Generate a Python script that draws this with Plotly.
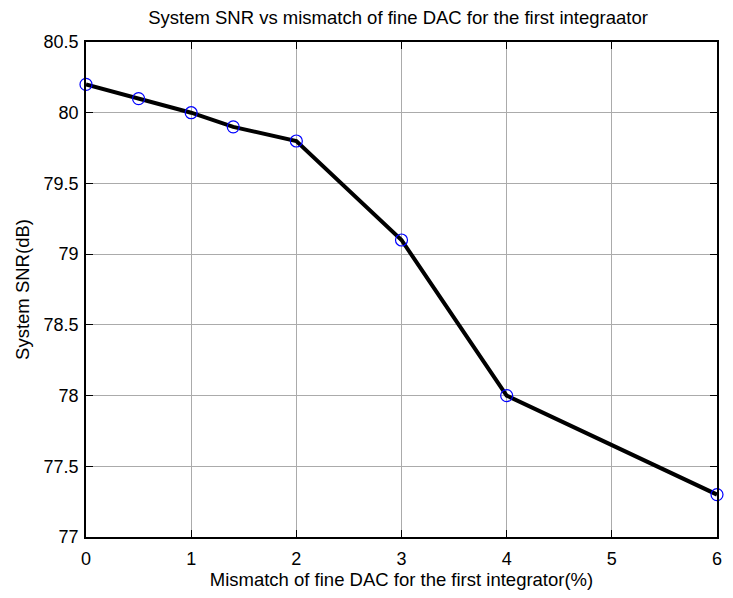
import plotly.graph_objects as go

# Mismatch of the fine DAC (%) and resulting system SNR (dB)
mismatch = [0, 0.5, 1, 1.4, 2, 3, 4, 6]
snr_db = [80.2, 80.1, 80.0, 79.9, 79.8, 79.1, 78.0, 77.3]

x_ticks = [0, 1, 2, 3, 4, 5, 6]
y_ticks = [77, 77.5, 78, 78.5, 79, 79.5, 80, 80.5]
y_tick_text = ["77", "77.5", "78", "78.5", "79", "79.5", "80", "80.5"]

FAMILY = "Liberation Sans, Arial, sans-serif"
tick_font = dict(family=FAMILY, size=18, color="black")
label_font = dict(family=FAMILY, size=18.5, color="black")

fig = go.Figure()
fig.add_trace(go.Scatter(
    x=mismatch, y=snr_db, mode="lines",
    line=dict(color="black", width=4),
    showlegend=False, hoverinfo="skip",
))
fig.add_trace(go.Scatter(
    x=mismatch, y=snr_db, mode="markers",
    marker=dict(symbol="circle-open", size=12, color="blue", line=dict(width=1.2, color="blue")),
    showlegend=False, cliponaxis=False,
))

axis_common = dict(
    showline=True, linecolor="black", linewidth=1.5, mirror="ticks",
    ticks="inside", ticklen=7, tickcolor="black", tickwidth=1,
    showgrid=True, gridcolor="#ababab", gridwidth=1,
    zeroline=False, tickfont=tick_font,
)

fig.update_layout(
    width=733, height=598,
    margin=dict(l=86, r=11, t=42, b=56),
    paper_bgcolor="white", plot_bgcolor="white",
    font=tick_font,
    title=dict(
        text="System SNR vs mismatch of fine DAC for the first integraator",
        x=398 / 733, xanchor="center", y=1 - 18 / 598, yanchor="middle",
        font=label_font,
    ),
    xaxis=dict(
        range=[0, 6], tickvals=x_ticks, ticklabelstandoff=5,
        title=dict(text="Mismatch of fine DAC for the first integrator(%)", standoff=5, font=label_font),
        **axis_common,
    ),
    yaxis=dict(
        range=[77, 80.5], tickvals=y_ticks, ticktext=y_tick_text, ticklabelstandoff=2,
        title=dict(text="System SNR(dB)", standoff=9, font=label_font),
        **axis_common,
    ),
)

fig.write_html("out.html")
